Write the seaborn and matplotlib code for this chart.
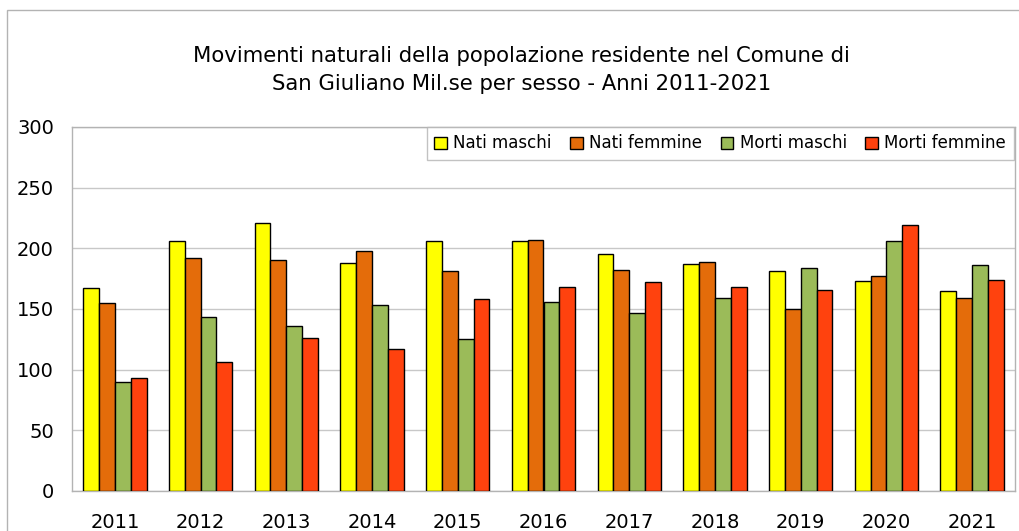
import numpy as np
import pandas as pd
import seaborn as sns
import matplotlib.pyplot as plt
from matplotlib.patches import Rectangle

# Dati
anni = ["2011", "2012", "2013", "2014", "2015", "2016", "2017", "2018", "2019", "2020", "2021"]
nati_maschi = [167, 206, 221, 188, 206, 206, 195, 187, 181, 173, 165]
nati_femmine = [155, 192, 190, 198, 181, 207, 182, 189, 150, 177, 159]
morti_maschi = [90, 143, 136, 153, 125, 156, 147, 159, 184, 206, 186]
morti_femmine = [93, 106, 126, 117, 158, 168, 172, 168, 166, 219, 174]

serie = ["Nati maschi", "Nati femmine", "Morti maschi", "Morti femmine"]
colori = ["#FFFF00", "#E46C0A", "#9BBB59", "#FF420E"]

df = pd.DataFrame({
    "anno": anni,
    "Nati maschi": nati_maschi,
    "Nati femmine": nati_femmine,
    "Morti maschi": morti_maschi,
    "Morti femmine": morti_femmine,
})
df_long = df.melt(id_vars="anno", value_vars=serie, var_name="Tipo", value_name="Valore")

sns.set_style("white")
plt.rcParams["font.family"] = ["DejaVu Sans"]
plt.rcParams["text.color"] = "black"

fig = plt.figure(figsize=(10.2, 5.31), dpi=100)
ax = fig.add_axes([72 / 1020, 40 / 531, (1015 - 72) / 1020, (491 - 127) / 531])

sns.barplot(data=df_long, x="anno", y="Valore", hue="Tipo", hue_order=serie,
            palette=colori, width=0.74, edgecolor="black", linewidth=1,
            saturation=1, ax=ax, zorder=3)

ax.set_ylim(0, 300)
ax.set_xlim(-0.5, len(anni) - 0.5)
ax.set_yticks(range(0, 301, 50))
ax.yaxis.grid(True, color="#c8c8c8", linewidth=1, zorder=0)
ax.set_axisbelow(True)
ax.set_xlabel("")
ax.set_ylabel("")

# tacche tra le categorie
ax.set_xticks(np.arange(-0.5, len(anni), 1), minor=True)
ax.tick_params(axis="x", which="major", length=0, pad=16, labelsize=14, labelcolor="black")
ax.tick_params(axis="x", which="minor", length=8, color="#b3b3b3", width=1)
ax.tick_params(axis="y", which="major", length=7, color="#b3b3b3", width=1, pad=6,
               labelsize=14, labelcolor="black")

for lato in ["left", "bottom", "right", "top"]:
    ax.spines[lato].set_visible(True)
    ax.spines[lato].set_color("#b3b3b3")
    ax.spines[lato].set_linewidth(1)

leg = ax.legend(loc="upper right", bbox_to_anchor=(0.9985, 1.0), ncol=4, fontsize=12,
                frameon=True, fancybox=False, edgecolor="#b3b3b3", borderaxespad=0,
                handlelength=0.75, handleheight=0.75, handletextpad=0.4,
                columnspacing=1.1, borderpad=0.45)
leg.get_frame().set_linewidth(1)
for t in leg.get_texts():
    t.set_color("black")

fig.text(0.511, 0.868, "Movimenti naturali della popolazione residente nel Comune di\n"
         "San Giuliano Mil.se per sesso - Anni 2011-2021",
         ha="center", va="center", fontsize=15.3, linespacing=1.5, color="black")

# cornice esterna
fig.patches.append(Rectangle((7 / 1020, -0.05), 1.2, 1 - 10 / 531 + 0.05,
                             transform=fig.transFigure, fill=False,
                             edgecolor="#b3b3b3", linewidth=1))

fig.savefig("out.png", dpi=100)
